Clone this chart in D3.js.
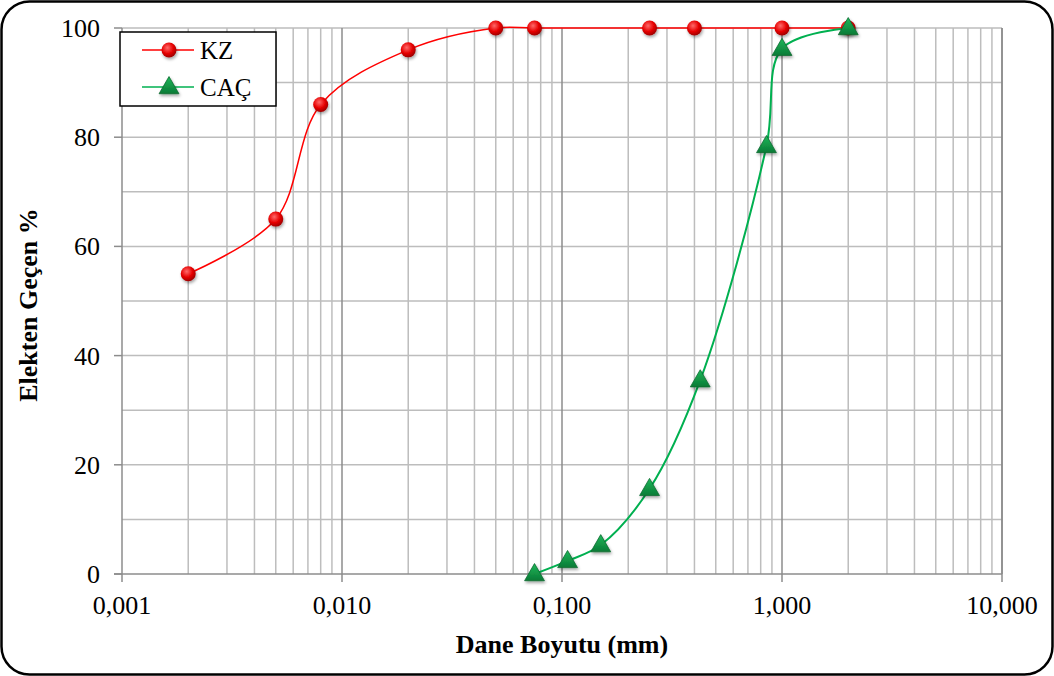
<!DOCTYPE html>
<html>
<head>
<meta charset="utf-8">
<script src="https://cdn.jsdelivr.net/npm/d3@7"></script>
<style>
body { margin: 0; background: #fff; }
svg { display: block; }
</style>
</head>
<body>
<script>
// sieve data
var kzSize = [0.002, 0.005, 0.008, 0.02, 0.05, 0.075, 0.25, 0.4, 1.0, 2.0];
var kzPass = [55, 65, 86, 96, 100, 100, 100, 100, 100, 100];
var cacSize = [0.075, 0.106, 0.15, 0.25, 0.425, 0.85, 1.0, 2.0];
var cacPass = [0, 2.4, 5.3, 15.6, 35.5, 78.4, 96.2, 100];
var xTicks = [0.001, 0.01, 0.1, 1, 10];
var xTickLabels = ["0,001", "0,010", "0,100", "1,000", "10,000"];
var yTicks = [0, 20, 40, 60, 80, 100];

var w = 1054, h = 676;
var pl = 122, pr = 1002, pt = 28, pb = 574;
var font = "Liberation Serif, Times New Roman, serif";

var svg = d3.select("body").append("svg")
    .attr("width", w)
    .attr("height", h);

svg.append("rect")
    .attr("x", 1.5).attr("y", 1.5)
    .attr("width", w - 3).attr("height", h - 3)
    .attr("rx", 28).attr("ry", 28)
    .attr("fill", "#fff")
    .attr("stroke", "#000")
    .attr("stroke-width", 2.5);

var x = d3.scaleLog().domain([0.001, 10]).range([pl, pr]);
var y = d3.scaleLinear().domain([0, 100]).range([pb, pt]);

// minor vertical grid
var minor = [];
for (var e = -3; e < 1; e++) {
    for (var m = 2; m <= 9; m++) minor.push(m * Math.pow(10, e));
}
svg.selectAll("line.vminor")
    .data(minor)
    .enter().append("line")
    .attr("x1", function(d) { return x(d); })
    .attr("x2", function(d) { return x(d); })
    .attr("y1", pt).attr("y2", pb)
    .attr("stroke", "#bdbdbd")
    .attr("stroke-width", 1.5);

// horizontal grid every 10
svg.selectAll("line.hgrid")
    .data(d3.range(10, 101, 10))
    .enter().append("line")
    .attr("x1", pl).attr("x2", pr)
    .attr("y1", function(d) { return y(d); })
    .attr("y2", function(d) { return y(d); })
    .attr("stroke", "#bdbdbd")
    .attr("stroke-width", 1.5);

// decade lines
svg.selectAll("line.vmajor")
    .data(xTicks)
    .enter().append("line")
    .attr("x1", function(d) { return x(d); })
    .attr("x2", function(d) { return x(d); })
    .attr("y1", pt).attr("y2", pb + 8)
    .attr("stroke", "#8c8c8c")
    .attr("stroke-width", 1.5);

// axis lines
svg.append("line")
    .attr("x1", pl - 8).attr("x2", pr)
    .attr("y1", pb).attr("y2", pb)
    .attr("stroke", "#8c8c8c").attr("stroke-width", 1.5);
svg.append("line")
    .attr("x1", pr).attr("x2", pr)
    .attr("y1", pt).attr("y2", pb)
    .attr("stroke", "#8c8c8c").attr("stroke-width", 1.5);

svg.selectAll("line.ytick")
    .data(yTicks)
    .enter().append("line")
    .attr("x1", pl - 8).attr("x2", pl)
    .attr("y1", function(d) { return y(d); })
    .attr("y2", function(d) { return y(d); })
    .attr("stroke", "#8c8c8c").attr("stroke-width", 1.5);

// tick labels
svg.selectAll("text.ylab")
    .data(yTicks)
    .enter().append("text")
    .text(function(d) { return d; })
    .attr("x", 100)
    .attr("y", function(d) { return y(d) + 9; })
    .attr("text-anchor", "end")
    .attr("font-family", font)
    .attr("font-size", "26px")
    .attr("fill", "#000");

svg.selectAll("text.xlab")
    .data(xTicks)
    .enter().append("text")
    .text(function(d, i) { return xTickLabels[i]; })
    .attr("x", function(d) { return x(d); })
    .attr("y", 614)
    .attr("text-anchor", "middle")
    .attr("font-family", font)
    .attr("font-size", "26px")
    .attr("fill", "#000");

svg.append("text")
    .text("Dane Boyutu (mm)")
    .attr("x", 562)
    .attr("y", 653)
    .attr("text-anchor", "middle")
    .attr("font-family", font)
    .attr("font-weight", "bold")
    .attr("font-size", "26px");

svg.append("text")
    .text("Elekten  Geçen %")
    .attr("transform", "translate(37,305) rotate(-90)")
    .attr("text-anchor", "middle")
    .attr("font-family", font)
    .attr("font-weight", "bold")
    .attr("font-size", "26px");

// defs for shading
var defs = svg.append("defs");
var rg = defs.append("radialGradient").attr("id", "redball")
    .attr("cx", "40%").attr("cy", "35%").attr("r", "65%");
rg.append("stop").attr("offset", "0%").attr("stop-color", "#ff6a6a");
rg.append("stop").attr("offset", "60%").attr("stop-color", "#e60000");
rg.append("stop").attr("offset", "100%").attr("stop-color", "#a00000");
var gg = defs.append("linearGradient").attr("id", "greentri")
    .attr("x1", "0").attr("y1", "0").attr("x2", "0").attr("y2", "1");
gg.append("stop").attr("offset", "0%").attr("stop-color", "#1fb85a");
gg.append("stop").attr("offset", "100%").attr("stop-color", "#0a7a36");
var sh = defs.append("filter").attr("id", "shadow")
    .attr("x", "-50%").attr("y", "-50%").attr("width", "200%").attr("height", "200%");
sh.append("feDropShadow").attr("dx", 1).attr("dy", 2)
    .attr("stdDeviation", 1.5).attr("flood-color", "#000").attr("flood-opacity", 0.35);

var line = d3.line()
    .x(function(d) { return x(d[0]); })
    .y(function(d) { return y(d[1]); })
    .curve(d3.curveCatmullRom.alpha(0.5));

var kz = kzSize.map(function(d, i) { return [d, kzPass[i]]; });
var cac = cacSize.map(function(d, i) { return [d, cacPass[i]]; });

svg.append("path")
    .datum(kz)
    .attr("d", line)
    .attr("fill", "none")
    .attr("stroke", "#ff0000")
    .attr("stroke-width", 1.5);

svg.append("path")
    .datum(cac)
    .attr("d", line)
    .attr("fill", "none")
    .attr("stroke", "#00b050")
    .attr("stroke-width", 2);

var tri = d3.symbol().type(d3.symbolTriangle).size(170);

svg.selectAll("circle.kz")
    .data(kz)
    .enter().append("circle")
    .attr("cx", function(d) { return x(d[0]); })
    .attr("cy", function(d) { return y(d[1]); })
    .attr("r", 7.5)
    .attr("fill", "url(#redball)")
    .attr("filter", "url(#shadow)");

svg.selectAll("path.cac")
    .data(cac)
    .enter().append("path")
    .attr("d", tri)
    .attr("transform", function(d) { return "translate(" + x(d[0]) + "," + (y(d[1]) + 1) + ")"; })
    .attr("fill", "url(#greentri)")
    .attr("stroke", "#0a6b30")
    .attr("stroke-width", 0.8)
    .attr("filter", "url(#shadow)");

// legend
var lg = svg.append("g");
lg.append("rect")
    .attr("x", 120).attr("y", 32)
    .attr("width", 156).attr("height", 74)
    .attr("fill", "#fff")
    .attr("stroke", "#000")
    .attr("stroke-width", 1.5);
lg.append("line").attr("x1", 142).attr("x2", 194).attr("y1", 50).attr("y2", 50)
    .attr("stroke", "#ff0000").attr("stroke-width", 1.5);
lg.append("circle").attr("cx", 169).attr("cy", 50).attr("r", 7.5)
    .attr("fill", "url(#redball)").attr("filter", "url(#shadow)");
lg.append("line").attr("x1", 142).attr("x2", 194).attr("y1", 87).attr("y2", 87)
    .attr("stroke", "#00b050").attr("stroke-width", 1.5);
lg.append("path").attr("d", tri)
    .attr("transform", "translate(169,88)")
    .attr("fill", "url(#greentri)").attr("stroke", "#0a6b30").attr("stroke-width", 0.8)
    .attr("filter", "url(#shadow)");
lg.append("text").text("KZ").attr("x", 200).attr("y", 59)
    .attr("font-family", font).attr("font-size", "25px");
lg.append("text").text("CAÇ").attr("x", 200).attr("y", 96)
    .attr("font-family", font).attr("font-size", "25px");
</script>
</body>
</html>
